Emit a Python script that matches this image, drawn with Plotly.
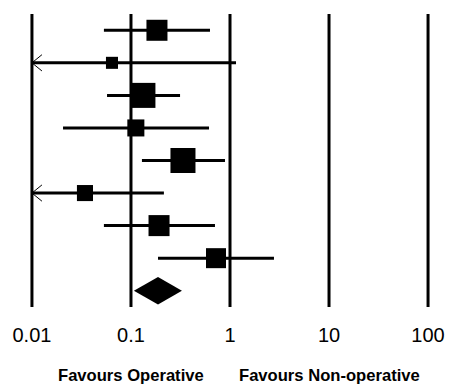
import math
import plotly.graph_objects as go

# ---- data ----
studies = ["Study 1", "Study 2", "Study 3", "Study 4", "Study 5", "Study 6", "Study 7", "Study 8"]
estimate = [0.183, 0.0643, 0.132, 0.112, 0.335, 0.0343, 0.192, 0.722]
lower = [0.0533, 0.004, 0.0573, 0.0206, 0.129, 0.003, 0.0533, 0.1875]
upper = [0.628, 1.15, 0.313, 0.614, 0.89, 0.215, 0.705, 2.78]
weight_pct = [13.7, 4.5, 19.4, 9.0, 19.4, 8.0, 13.7, 12.4]
pooled_est = 0.1875
pooled_lower = 0.107
pooled_upper = 0.327
tick_vals = [0.01, 0.1, 1, 10, 100]
tick_text = ["0.01", "0.1", "1", "10", "100"]
label_left = "Favours Operative"
label_right = "Favours Non-operative"
label_left_at = 0.1
label_right_at = 10

XMIN, XMAX = 0.01, 100
FONT = "Liberation Sans, Arial, sans-serif"

fig = go.Figure()

# vertical reference lines
shapes = []
for tv in tick_vals:
    shapes.append(dict(type="line", xref="x", yref="paper", x0=tv, x1=tv, y0=0, y1=1,
                       line=dict(color="black", width=3)))

rows = list(range(1, len(studies) + 1))
for i, (e, lo, hi) in enumerate(zip(estimate, lower, upper)):
    y = rows[i]
    lo_c = max(lo, XMIN)
    hi_c = min(hi, XMAX)
    fig.add_trace(go.Scatter(x=[lo_c, hi_c], y=[y, y], mode="lines",
                             line=dict(color="black", width=3), hoverinfo="skip", showlegend=False))
    if lo < XMIN:
        f = 10 ** (10 / 99)
        fig.add_trace(go.Scatter(x=[XMIN * f, XMIN, XMIN * f], y=[y - 0.25, y, y + 0.25], mode="lines",
                                 line=dict(color="black", width=1), hoverinfo="skip", showlegend=False))

sizes = [5.68 * math.sqrt(w) for w in weight_pct]
fig.add_trace(go.Scatter(x=estimate, y=rows, mode="markers",
                         marker=dict(symbol="square", size=sizes, color="black", opacity=1,
                                     line=dict(width=0)),
                         text=studies, showlegend=False))

# pooled diamond
yd = len(studies) + 1
h = 0.42
fig.add_trace(go.Scatter(x=[pooled_lower, pooled_est, pooled_upper, pooled_est, pooled_lower],
                         y=[yd, yd - h, yd, yd + h, yd], mode="lines", fill="toself",
                         fillcolor="black", line=dict(color="black", width=0), showlegend=False))

fig.update_layout(
    width=449, height=384,
    margin=dict(l=27, r=16, t=14, b=77, autoexpand=False),
    paper_bgcolor="white", plot_bgcolor="white",
    shapes=shapes,
    xaxis=dict(type="log", range=[math.log10(XMIN) - 0.05, math.log10(XMAX) + 0.05],
               tickvals=tick_vals, ticktext=tick_text, showgrid=False, zeroline=False,
               showline=False, ticks="outside", ticklen=10, tickcolor="rgba(0,0,0,0)",
               automargin=False,
               tickfont=dict(family=FONT, size=20, color="black")),
    yaxis=dict(range=[yd + 0.5, 0.5], visible=False, showgrid=False, zeroline=False,
               automargin=False),
    annotations=[
        dict(text="<b>" + label_left + "</b>", xref="x", yref="paper",
             x=math.log10(label_left_at), y=-0.235,
             xanchor="center", yanchor="middle", showarrow=False,
             font=dict(family=FONT, size=16.6, color="black")),
        dict(text="<b>" + label_right + "</b>", xref="x", yref="paper",
             x=math.log10(label_right_at), y=-0.235,
             xanchor="center", yanchor="middle", showarrow=False,
             font=dict(family=FONT, size=16.6, color="black")),
    ],
)

fig.write_html("out.html", config={"displayModeBar": False},
               post_script="document.body.style.margin='0';document.body.style.overflow='hidden';")
